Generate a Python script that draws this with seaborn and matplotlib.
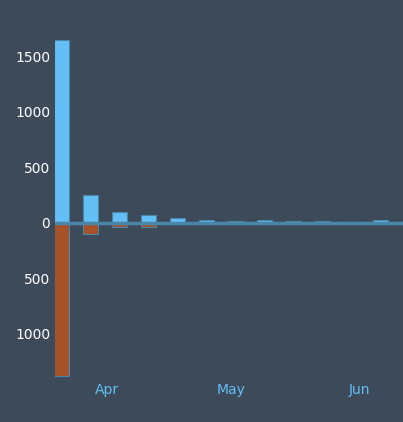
import pandas as pd
import numpy as np
import seaborn as sns
import matplotlib
matplotlib.use("Agg")
import matplotlib.pyplot as plt
import matplotlib.dates as mdates

# weekly values
weeks = pd.date_range("2023-03-21", periods=12, freq="7D")
positive = [1650, 250, 100, 70, 45, 25, 18, 25, 15, 15, 5, 22]
negative = [1385, 105, 35, 35, 15, 3, 8, 3, 5, 2, 3, 8]

bg = "#3d4a5a"
sns.set_theme(style="dark", rc={"axes.facecolor": bg, "figure.facecolor": bg})

fig = plt.figure(figsize=(4.03, 4.22), dpi=100)
ax = fig.add_axes([55 / 403, 44 / 422, 348 / 403, 355 / 422])

x = mdates.date2num(weeks)
df = pd.DataFrame({"x": np.concatenate([x, x]),
                   "y": np.concatenate([positive, -np.array(negative)]),
                   "s": ["pos"] * 12 + ["neg"] * 12})
sns.barplot(data=df, x="x", y="y", hue="s", native_scale=True, dodge=False,
            palette={"pos": "#63bff5", "neg": "#a65229"}, width=0.52, saturation=1,
            edgecolor="#4a86a8", linewidth=0.8, legend=False, ax=ax)

ax.axhline(0, color="#4a86a8", lw=2.5, zorder=5)
ax.set_ylim(-1400, 1800)
start = mdates.date2num(pd.Timestamp("2023-03-19 10:00"))
ax.set_xlim(start, start + 84)
ax.set_yticks([-1000, -500, 0, 500, 1000, 1500])
ax.set_yticklabels(["1000", "500", "0", "500", "1000", "1500"], color="white", fontsize=10)
ax.xaxis.set_major_locator(mdates.MonthLocator())
ax.xaxis.set_major_formatter(mdates.DateFormatter("%b"))
ax.tick_params(axis="x", colors="#63bff5", labelsize=10, length=0)
ax.tick_params(axis="y", length=0)
ax.grid(False)
ax.set_xlabel("")
ax.set_ylabel("")
for s in ax.spines.values():
    s.set_visible(False)

fig.savefig("out.png", dpi=100, facecolor=bg)
